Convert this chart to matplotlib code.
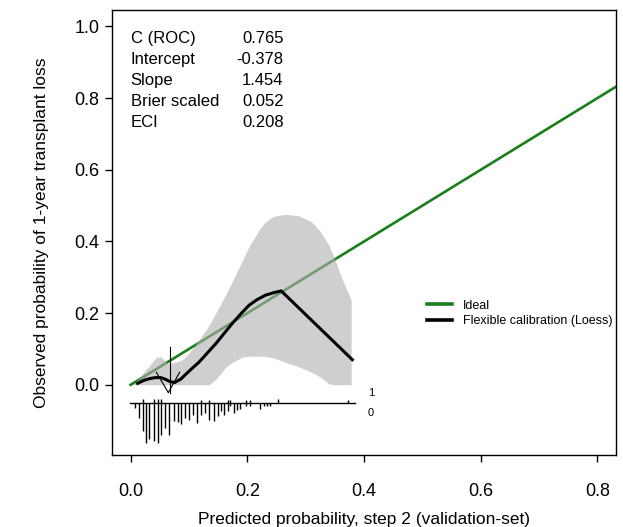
import numpy as np
import matplotlib.pyplot as plt

plt.rcParams['font.family'] = ['Liberation Sans', 'DejaVu Sans']

# ideal line
ideal_x = [0.0, 1.0]
ideal_y = [0.0, 1.0]

# confidence band of the flexible calibration curve
band_x = [0.004, 0.020, 0.032, 0.044, 0.052, 0.063, 0.075, 0.089, 0.100, 0.117, 0.134,
          0.146, 0.163, 0.174, 0.191, 0.203, 0.220, 0.231, 0.245, 0.265, 0.288, 0.310,
          0.325, 0.339, 0.350, 0.361, 0.378]
band_hi = [0.000, 0.030, 0.053, 0.077, 0.078, 0.060, 0.062, 0.070, 0.088, 0.125, 0.165,
           0.200, 0.252, 0.288, 0.345, 0.386, 0.432, 0.455, 0.470, 0.476, 0.472, 0.455,
           0.428, 0.392, 0.350, 0.301, 0.236]
band_lo = [0.000, 0.000, 0.000, 0.000, 0.000, 0.000, 0.000, 0.000, 0.000, 0.000, 0.000,
           0.015, 0.049, 0.062, 0.077, 0.080, 0.080, 0.079, 0.075, 0.063, 0.050, 0.035,
           0.022, 0.003, 0.000, 0.000, 0.000]

# flexible calibration (loess)
loess_x = [0.012, 0.022, 0.032, 0.042, 0.052, 0.060, 0.066, 0.075, 0.086, 0.100, 0.117,
           0.131, 0.146, 0.160, 0.174, 0.190, 0.203, 0.217, 0.231, 0.245, 0.258, 0.380]
loess_y = [0.004, 0.012, 0.017, 0.020, 0.020, 0.015, 0.010, 0.006, 0.016, 0.038, 0.063,
           0.088, 0.115, 0.143, 0.171, 0.200, 0.222, 0.238, 0.250, 0.257, 0.262, 0.070]

# thin marks near the origin
v_x = [0.044, 0.0645, 0.084]
v_y = [0.035, -0.022, 0.035]
bar_x = 0.067
bar_y = [-0.022, 0.105]

# spike histogram of predictions (0 = down, 1 = up)
down_x = [0.007, 0.014, 0.021, 0.027, 0.032, 0.040, 0.047, 0.052, 0.059, 0.066, 0.074,
          0.081, 0.086, 0.093, 0.100, 0.106, 0.114, 0.120, 0.127, 0.135, 0.143, 0.149,
          0.154, 0.160, 0.166, 0.171, 0.177, 0.183, 0.188, 0.197, 0.205, 0.222, 0.228,
          0.234, 0.239]
down_h = [0.014, 0.042, 0.079, 0.112, 0.101, 0.107, 0.112, 0.090, 0.070, 0.090, 0.051,
          0.053, 0.059, 0.042, 0.048, 0.034, 0.056, 0.034, 0.028, 0.048, 0.050, 0.037,
          0.022, 0.034, 0.022, 0.008, 0.028, 0.020, 0.017, 0.008, 0.008, 0.017, 0.008,
          0.008, 0.008]
up_x = [0.021, 0.040, 0.047, 0.052, 0.120, 0.134, 0.166, 0.171, 0.197, 0.205, 0.253, 0.373]
up_h = [0.010, 0.010, 0.010, 0.010, 0.008, 0.008, 0.008, 0.008, 0.008, 0.008, 0.010, 0.008]
hist_base = -0.05

stat_names = ["C (ROC)", "Intercept", "Slope", "Brier scaled", "ECI"]
stat_vals = ["0.765", "-0.378", "1.454", "0.052", "0.208"]

fig = plt.figure(figsize=(6.23, 5.27), dpi=100)
ax = fig.add_axes([0.1798, 0.1366, 0.809, 0.8444])

ax.plot(ideal_x, ideal_y, color='#1a7f1a', lw=1.9, label='Ideal', zorder=2)
ax.fill_between(band_x, band_lo, band_hi, color=(0.69, 0.69, 0.69), alpha=0.6,
                lw=0, zorder=3)
ax.plot(loess_x, loess_y, color='black', lw=2.2, label='Flexible calibration (Loess)',
        zorder=4)
ax.plot(v_x, v_y, color='black', lw=0.8, zorder=4)
ax.plot([bar_x, bar_x], bar_y, color='black', lw=0.8, zorder=4)

ax.plot([-0.002, 0.384], [hist_base, hist_base], color='black', lw=1.0)
ax.vlines(down_x, hist_base, hist_base - np.array(down_h), color='black', lw=1.0)
ax.vlines(up_x, hist_base, hist_base + np.array(up_h), color='black', lw=1.0)
ax.text(0.412, -0.022, "1", fontsize=8, ha='center', va='center')
ax.text(0.412, -0.08, "0", fontsize=8, ha='center', va='center')

stat_y = [0.966, 0.907, 0.848, 0.792, 0.733]
for name, val, yy in zip(stat_names, stat_vals, stat_y):
    ax.text(0.0, yy, name, fontsize=12, ha='left', va='center')
    ax.text(0.262, yy, val, fontsize=12, ha='right', va='center')

ax.set_xlim(-0.032, 0.832)
ax.set_ylim(-0.196, 1.046)
ax.set_xticks([0.0, 0.2, 0.4, 0.6, 0.8])
ax.set_yticks([0.0, 0.2, 0.4, 0.6, 0.8, 1.0])
ax.set_xticklabels(["0.0", "0.2", "0.4", "0.6", "0.8"])
ax.set_yticklabels(["0.0", "0.2", "0.4", "0.6", "0.8", "1.0"])
ax.tick_params(direction='out', length=5, width=1, labelsize=13)
ax.tick_params(axis='x', pad=15)
ax.tick_params(axis='y', pad=4)
for s in ax.spines.values():
    s.set_linewidth(1.0)

ax.set_xlabel("Predicted probability, step 2 (validation-set)", fontsize=12.5, labelpad=9)
ax.set_ylabel("Observed probability of 1-year transplant loss", fontsize=12.5, labelpad=18)

leg = ax.legend(loc='upper left', bbox_to_anchor=(0.624, 0.349), frameon=False, fontsize=9,
                handlelength=2.0, handletextpad=0.9, labelspacing=0.3, borderpad=0,
                borderaxespad=0)
for h in leg.get_lines():
    h.set_linewidth(2.6)

fig.savefig("out.png", dpi=100)
